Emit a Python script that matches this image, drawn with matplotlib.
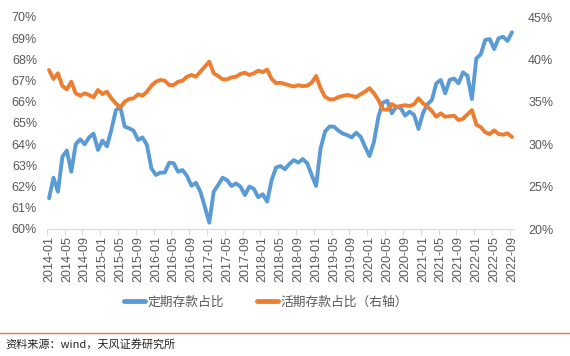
import numpy as np
import pandas as pd
import matplotlib
matplotlib.use('Agg')
import matplotlib.pyplot as plt
from matplotlib.lines import Line2D
from matplotlib.ticker import FuncFormatter

# monthly data, 2014-01 .. 2022-09
months = pd.period_range('2014-01', '2022-09', freq='M').strftime('%Y-%m').tolist()

# 定期存款占比 (left axis, %)
time_share = [
    61.45, 62.42, 61.76, 63.41, 63.70, 62.70, 64.00, 64.23, 64.00, 64.32,
    64.50, 63.73, 64.17, 63.90, 64.67, 65.60, 65.77, 64.83, 64.75, 64.64,
    64.20, 64.32, 63.96, 62.86, 62.55, 62.66, 62.66, 63.13, 63.10, 62.70,
    62.78, 62.50, 62.04, 62.18, 61.76, 61.05, 60.30, 61.76, 62.08, 62.42,
    62.30, 62.03, 62.15, 62.00, 61.60, 62.00, 61.90, 61.50, 61.64, 61.29,
    62.30, 62.90, 62.97, 62.82, 63.07, 63.25, 63.13, 63.30, 63.10, 62.55,
    62.03, 63.80, 64.59, 64.83, 64.83, 64.64, 64.50, 64.43, 64.32, 64.54,
    64.35, 63.88, 63.44, 64.12, 65.30, 65.96, 66.05, 65.46, 65.77, 65.70,
    65.35, 65.53, 65.38, 64.72, 65.46, 65.88, 66.08, 66.87, 67.03, 66.40,
    67.03, 67.10, 66.87, 67.39, 67.23, 66.13, 68.05, 68.24, 68.92, 68.96,
    68.49, 69.00, 69.07, 68.87, 69.28,
]

# 活期存款占比 (right axis, %)
demand_share = [
    38.75, 37.69, 38.36, 36.86, 36.47, 37.37, 36.00, 35.72, 36.00, 35.80,
    35.53, 36.39, 35.92, 36.19, 35.41, 34.82, 34.35, 35.00, 35.33, 35.41,
    35.88, 35.72, 36.19, 36.90, 37.37, 37.57, 37.49, 36.98, 36.98, 37.37,
    37.49, 37.96, 38.16, 37.96, 38.55, 39.14, 39.73, 38.36, 38.04, 37.65,
    37.65, 37.89, 37.96, 38.28, 38.43, 38.16, 38.36, 38.67, 38.50, 38.80,
    37.70, 37.20, 37.25, 37.10, 36.95, 36.80, 36.95, 36.85, 36.90, 37.25,
    38.04, 36.59, 35.60, 35.29, 35.30, 35.55, 35.70, 35.80, 35.70, 35.55,
    35.90, 36.20, 36.60, 36.00, 35.20, 34.10, 34.05, 34.74, 34.40, 34.50,
    34.60, 34.50, 34.70, 35.41, 34.82, 34.42, 33.92, 33.24, 33.64, 33.24,
    33.30, 33.36, 32.85, 33.00, 33.52, 34.03, 32.30, 32.00, 31.40, 31.20,
    31.63, 31.20, 31.12, 31.29, 30.85,
]

left_ticks = list(range(60, 71))
right_ticks = list(range(20, 46, 5))
label_step = 4

blue = '#5B9BD5'
orange = '#ED7D31'
grey = '#595959'
num_font = 'Liberation Sans'
cjk_font = ['Noto Sans CJK SC', 'DejaVu Sans']

fig = plt.figure(figsize=(5.7, 3.56), dpi=100)
W, H = 570, 356
x0, x1, y_top, y_bot = 46.8, 514.2, 17, 229
ax = fig.add_axes([x0 / W, 1 - y_bot / H, (x1 - x0) / W, (y_bot - y_top) / H])
ax2 = ax.twinx()

x = np.arange(len(months))
ax.plot(x, time_share, color=blue, lw=2.8, solid_capstyle='round', solid_joinstyle='round')
ax2.plot(x, demand_share, color=orange, lw=2.8, solid_capstyle='round', solid_joinstyle='round')

ax.set_xlim(-0.5, len(months) - 0.5)
ax.set_ylim(60, 70)
ax2.set_ylim(20, 45)
ax.set_yticks(left_ticks)
ax2.set_yticks(right_ticks)
pct = FuncFormatter(lambda v, p: f'{v:.0f}%')
ax.yaxis.set_major_formatter(pct)
ax2.yaxis.set_major_formatter(pct)

# labels every 4 months, tick marks on the category boundary just left of them
label_idx = x[::label_step]
ax.set_xticks(label_idx)
ax.set_xticklabels([months[i] for i in label_idx], rotation=90)
ax.set_xticks(label_idx - 0.5, minor=True)
ax.tick_params(axis='x', which='major', length=0, pad=5, labelsize=9, labelcolor=grey)
ax.tick_params(axis='x', which='minor', length=4, width=0.8, color='#D9D9D9')
ax.tick_params(axis='y', length=0, pad=7, labelsize=9, labelcolor=grey)
ax2.tick_params(axis='y', length=0, pad=10, labelsize=9, labelcolor=grey)

for a in (ax, ax2):
    for s in ('top', 'left', 'right'):
        a.spines[s].set_visible(False)
ax.spines['bottom'].set_color('#D9D9D9')
ax.spines['bottom'].set_linewidth(0.8)
ax2.spines['bottom'].set_visible(False)

for lab in ax.get_xticklabels() + ax.get_yticklabels() + ax2.get_yticklabels():
    lab.set_fontfamily(num_font)

handles = [Line2D([], [], color=blue, lw=3.5, solid_capstyle='round'),
           Line2D([], [], color=orange, lw=3.5, solid_capstyle='round')]
fig.legend(handles, ['定期存款占比', '活期存款占比（右轴）'],
           loc='center', bbox_to_anchor=(266 / W, 1 - 302 / H), ncol=2,
           frameon=False, handlelength=1.6, handletextpad=0.2, columnspacing=2.6,
           prop={'family': cjk_font, 'size': 9.2}, labelcolor=grey)

# orange rule and source note at the bottom
fig.add_artist(Line2D([0, 1], [1 - 333 / H, 1 - 333 / H], transform=fig.transFigure,
                      color=orange, lw=1.0))
fig.text(5 / W, 1 - 344 / H, '资料来源：wind，天风证券研究所', family=cjk_font,
         fontsize=8, color='#222222', va='center', ha='left')

fig.savefig('out.png', dpi=100)
